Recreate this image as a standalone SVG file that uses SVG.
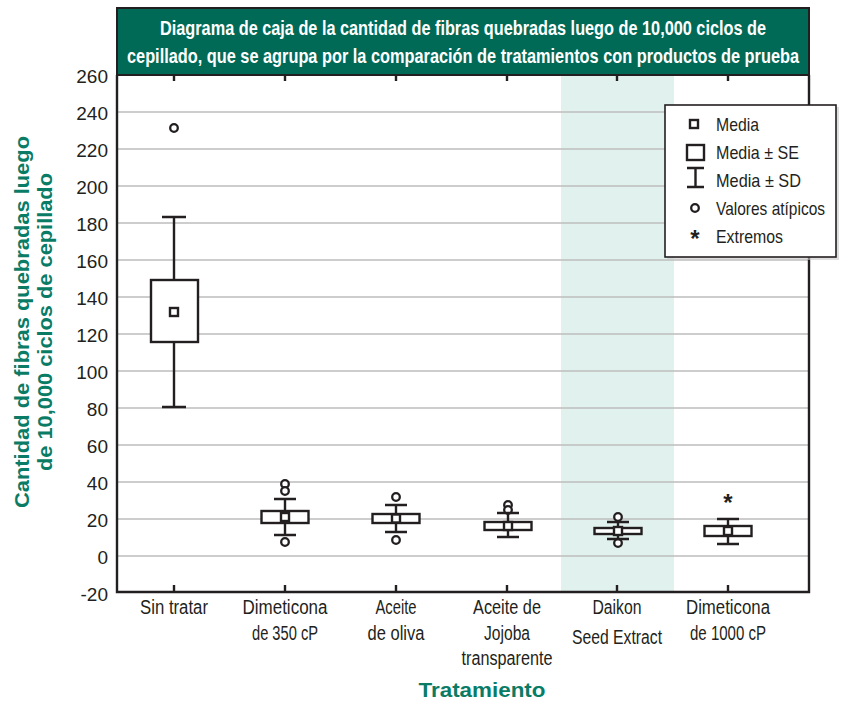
<svg xmlns="http://www.w3.org/2000/svg" width="846" height="701" viewBox="0 0 846 701">
<style>
.t{font-family:"Liberation Sans",Arial,sans-serif;fill:#231f20}
.num{font-size:19px;text-anchor:end}
.xl{font-size:19.5px;text-anchor:middle}
.lg{font-size:19px}
.ttl{font-family:"Liberation Sans",Arial,sans-serif;font-weight:bold;font-size:19.5px;fill:#fff;text-anchor:middle}
.ax{font-family:"Liberation Sans",Arial,sans-serif;font-weight:bold;fill:#0a7c66;text-anchor:middle}
.grid{stroke:#bdbdbd;stroke-width:1.6}
.k{stroke:#231f20;stroke-width:2.4;fill:none}
.kw{stroke:#231f20;stroke-width:2.4;fill:#fff}
.o{stroke:#231f20;stroke-width:2.3;fill:#fff}
</style>
<defs>
<circle id="out" r="3.8" class="o"/>
<rect id="mean" x="-4" y="-4" width="8" height="8" class="kw" stroke-width="2.2"/>
</defs>
<rect width="846" height="701" fill="#fff"/>
<!-- shaded band -->
<rect x="561" y="75" width="113" height="517" fill="#e1f1ed"/>
<!-- gridlines -->
<g id="grid">
<line class="grid" x1="117" x2="809" y1="112" y2="112"/>
<line class="grid" x1="117" x2="809" y1="149" y2="149"/>
<line class="grid" x1="117" x2="809" y1="186" y2="186"/>
<line class="grid" x1="117" x2="809" y1="223" y2="223"/>
<line class="grid" x1="117" x2="809" y1="260" y2="260"/>
<line class="grid" x1="117" x2="809" y1="297" y2="297"/>
<line class="grid" x1="117" x2="809" y1="334" y2="334"/>
<line class="grid" x1="117" x2="809" y1="371" y2="371"/>
<line class="grid" x1="117" x2="809" y1="408" y2="408"/>
<line class="grid" x1="117" x2="809" y1="445" y2="445"/>
<line class="grid" x1="117" x2="809" y1="482" y2="482"/>
<line class="grid" x1="117" x2="809" y1="519" y2="519"/>
<line class="grid" x1="117" x2="809" y1="556" y2="556"/>
</g>
<!-- title banner -->
<g id="title">
<rect x="117" y="8" width="692" height="67" fill="#006a57" stroke="#231f20" stroke-width="2"/>
<text class="ttl" transform="translate(463,35) scale(0.835,1)">Diagrama de caja de la cantidad de fibras quebradas luego de 10,000 ciclos de</text>
<text class="ttl" transform="translate(463,63) scale(0.838,1)">cepillado, que se agrupa por la comparación de tratamientos con productos de prueba</text>
</g>
<!-- frame -->
<g id="frame">
<polyline points="117,75 117,592 809,592 809,75" class="k" stroke-width="2.6"/>
<path class="k" d="M174 75v6M285 75v6M396 75v6M507 75v6M617 75v6M728 75v6M174 592v-7M285 592v-7M396 592v-7M507 592v-7M617 592v-7M728 592v-7"/>
</g>
<!-- y axis labels -->
<g id="yaxis" class="t num">
<text x="108" y="83">260</text>
<text x="108" y="120">240</text>
<text x="108" y="157">220</text>
<text x="108" y="194">200</text>
<text x="108" y="231">180</text>
<text x="108" y="268">160</text>
<text x="108" y="305">140</text>
<text x="108" y="342">120</text>
<text x="108" y="379">100</text>
<text x="108" y="416">80</text>
<text x="108" y="453">60</text>
<text x="108" y="490">40</text>
<text x="108" y="527">20</text>
<text x="108" y="564">0</text>
<text x="108" y="601">-20</text>
</g>
<g id="ytitle" class="ax" font-size="20">
<text transform="translate(29,322) rotate(-90)" textLength="372" lengthAdjust="spacingAndGlyphs">Cantidad de fibras quebradas luego</text>
<text transform="translate(52,322) rotate(-90)" textLength="298" lengthAdjust="spacingAndGlyphs">de 10,000 ciclos de cepillado</text>
</g>
<!-- boxplots -->
<g id="sin-tratar">
<path class="k" d="M174 217V280M174 342V407M162 217h24M162 407h24"/>
<rect class="kw" x="151" y="280" width="47" height="62"/>
<use href="#mean" x="174" y="312"/>
<use href="#out" x="174" y="128"/>
</g>
<g id="dimeticona-350">
<path class="k" d="M285 499V511M285 523V535M274 499h22M274 535h22"/>
<rect class="kw" x="261.5" y="511" width="47" height="12"/>
<use href="#mean" x="285" y="517"/>
<use href="#out" x="285" y="484"/>
<use href="#out" x="285" y="491"/>
<use href="#out" x="285" y="542"/>
</g>
<g id="aceite-oliva">
<path class="k" d="M396 505V514M396 523V532M385 505h22M385 532h22"/>
<rect class="kw" x="372.5" y="514" width="47" height="9"/>
<use href="#mean" x="396" y="518.5"/>
<use href="#out" x="396" y="497"/>
<use href="#out" x="396" y="540"/>
</g>
<g id="jojoba">
<use href="#out" x="508" y="505"/>
<use href="#out" x="508" y="510"/>
<path class="k" d="M508 513V522M508 530V537M497 513h22M497 537h22"/>
<rect class="kw" x="484.5" y="522" width="47" height="8"/>
<use href="#mean" x="508" y="526"/>
</g>
<g id="daikon">
<use href="#out" x="618" y="517"/>
<use href="#out" x="618" y="543"/>
<path class="k" d="M618 522V528M618 534V539M607 522h22M607 539h22"/>
<rect class="kw" x="594.5" y="528" width="47" height="6"/>
<use href="#mean" x="618" y="531"/>
</g>
<g id="dimeticona-1000">
<path class="k" d="M728 519V526M728 536V544M717 519h22M717 544h22"/>
<rect class="kw" x="704.5" y="526" width="47" height="10"/>
<use href="#mean" x="728" y="531"/>
<text class="t" x="728" y="511" font-size="24" font-weight="bold" text-anchor="middle">*</text>
</g>
<!-- x labels -->
<g id="xlabels" class="t xl">
<text x="174" y="614" textLength="68" lengthAdjust="spacingAndGlyphs">Sin tratar</text>
<text x="285" y="614" textLength="85" lengthAdjust="spacingAndGlyphs">Dimeticona</text>
<text x="285" y="640" textLength="66" lengthAdjust="spacingAndGlyphs">de 350 cP</text>
<text x="396" y="614" textLength="41" lengthAdjust="spacingAndGlyphs">Aceite</text>
<text x="396" y="640" textLength="57" lengthAdjust="spacingAndGlyphs">de oliva</text>
<text x="507" y="614" textLength="68" lengthAdjust="spacingAndGlyphs">Aceite de</text>
<text x="507" y="640" textLength="46" lengthAdjust="spacingAndGlyphs">Jojoba</text>
<text x="507" y="665" textLength="91" lengthAdjust="spacingAndGlyphs">transparente</text>
<text x="617" y="614" textLength="49" lengthAdjust="spacingAndGlyphs">Daikon</text>
<text x="617" y="644" textLength="90" lengthAdjust="spacingAndGlyphs">Seed Extract</text>
<text x="728" y="614" textLength="84" lengthAdjust="spacingAndGlyphs">Dimeticona</text>
<text x="728" y="640" textLength="76" lengthAdjust="spacingAndGlyphs">de 1000 cP</text>
</g>
<text class="ax" x="482" y="697" font-size="21" textLength="127" lengthAdjust="spacingAndGlyphs">Tratamiento</text>
<!-- legend -->
<g id="legend">
<rect x="667" y="107" width="172" height="153" fill="#c8c8c8" opacity="0.6"/>
<rect x="665" y="105" width="171" height="152" fill="#fff" stroke="#231f20" stroke-width="1.6"/>
<rect class="kw" x="690" y="120" width="8" height="8" stroke-width="2.2"/>
<rect class="kw" x="687" y="145" width="17" height="15"/>
<path class="k" d="M687 168h17M695.5 168v19M687 187h17"/>
<circle class="o" cx="695" cy="208" r="3.8"/>
<text class="t" x="695" y="247" font-size="24" font-weight="bold" text-anchor="middle">*</text>
<g class="t lg">
<text x="716" y="131" textLength="43" lengthAdjust="spacingAndGlyphs">Media</text>
<text x="716" y="159" textLength="83" lengthAdjust="spacingAndGlyphs">Media ± SE</text>
<text x="716" y="187" textLength="85" lengthAdjust="spacingAndGlyphs">Media ± SD</text>
<text transform="translate(716,215) scale(0.815,1)">Valores atípicos</text>
<text x="716" y="243" textLength="67" lengthAdjust="spacingAndGlyphs">Extremos</text>
</g>
</g>
</svg>
